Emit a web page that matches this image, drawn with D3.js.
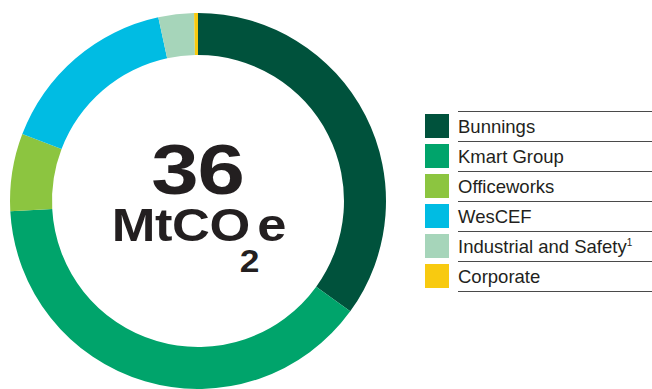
<!DOCTYPE html>
<html>
<head>
<meta charset="utf-8">
<script src="https://cdn.jsdelivr.net/npm/d3@7"></script>
<style>
  body { margin: 0; background: #fff; }
  svg { display: block; font-family: "Liberation Sans", Arial, sans-serif; }
</style>
</head>
<body>
<div id="chart"></div>
<script>
// emissions by division (MtCO2e)
const divisions = ["Bunnings", "Kmart Group", "Officeworks", "WesCEF", "Industrial and Safety", "Corporate"];
const emissions = [12.6, 14.1, 2.4, 5.7, 1.1, 0.12];
const colours = ["#00523c", "#00a46b", "#8cc540", "#00bce3", "#a6d5ba", "#f8ca10"];
const totalLabel = "36";
const unitParts = ["MtCO", "2", "e"];

const width = 652, height = 389;
const cx = 198, cy = 201;
const rOuter = 188, rInner = 146;

const svg = d3.select("#chart").append("svg")
    .attr("width", width)
    .attr("height", height);

const pie = d3.pie().sort(null).value(d => d.v);
const arc = d3.arc().innerRadius(rInner).outerRadius(rOuter);

const data = divisions.map((name, i) => ({ name: name, v: emissions[i], c: colours[i] }));

//ring
svg.append("g")
    .attr("transform", "translate(" + cx + "," + cy + ")")
    .selectAll("path")
    .data(pie(data))
    .enter()
    .append("path")
    .attr("d", arc)
    .attr("fill", d => d.data.c);

//centre label (glyphs widened a bit to look like the heavier original face)
const centre = svg.append("g").attr("fill", "#231f20").attr("font-weight", "bold");

centre.append("g")
    .attr("transform", "translate(" + (cx - 0.5) + ",194) scale(1.2,1)")
    .append("text")
    .attr("text-anchor", "middle")
    .attr("font-size", 71)
    .attr("letter-spacing", -1)
    .text(totalLabel);

// MtCO2e: three pieces laid out one after the other
const unitG = centre.append("g");
const sizes = [46, 31, 46];
const drops = [0, 31, 0];
const gaps = [-9, -2, 0];
const pieces = unitG.selectAll("text")
    .data(unitParts)
    .enter()
    .append("text")
    .attr("font-size", (d, i) => sizes[i])
    .attr("letter-spacing", (d, i) => i === 0 ? -0.3 : 0)
    .attr("y", (d, i) => drops[i])
    .text(d => d);

let xpos = 0;
pieces.each(function (d, i) {
    d3.select(this).attr("x", xpos);
    xpos += this.getBBox().width + gaps[i];
});
const total = xpos;
unitG.attr("transform", "translate(" + (cx + 1) + ",241) scale(1.14,1) translate(" + (-total / 2) + ",0)");

//legend
const legX = 425, legTop = 111, rowH = 30;
const legend = svg.append("g");

legend.selectAll("line")
    .data(d3.range(divisions.length + 1))
    .enter()
    .append("line")
    .attr("x1", 458)
    .attr("x2", width)
    .attr("y1", d => legTop + d * rowH + 0.5)
    .attr("y2", d => legTop + d * rowH + 0.5)
    .attr("stroke", "#4a4a4a")
    .attr("stroke-width", 1);

const rows = legend.selectAll("g.row")
    .data(data)
    .enter()
    .append("g")
    .attr("class", "row")
    .attr("transform", (d, i) => "translate(" + legX + "," + (legTop + i * rowH) + ")");

rows.append("rect")
    .attr("x", 0)
    .attr("y", 3)
    .attr("width", 24)
    .attr("height", 24)
    .attr("fill", d => d.c);

const labels = rows.append("text")
    .attr("x", 33)
    .attr("y", 22)
    .attr("font-size", 18.5)
    .attr("fill", "#231f20");
labels.append("tspan").text(d => d.name);
labels.filter(d => d.name === "Industrial and Safety")
    .append("tspan")
    .attr("font-size", 10)
    .attr("dy", -7)
    .text("1");
</script>
</body>
</html>
